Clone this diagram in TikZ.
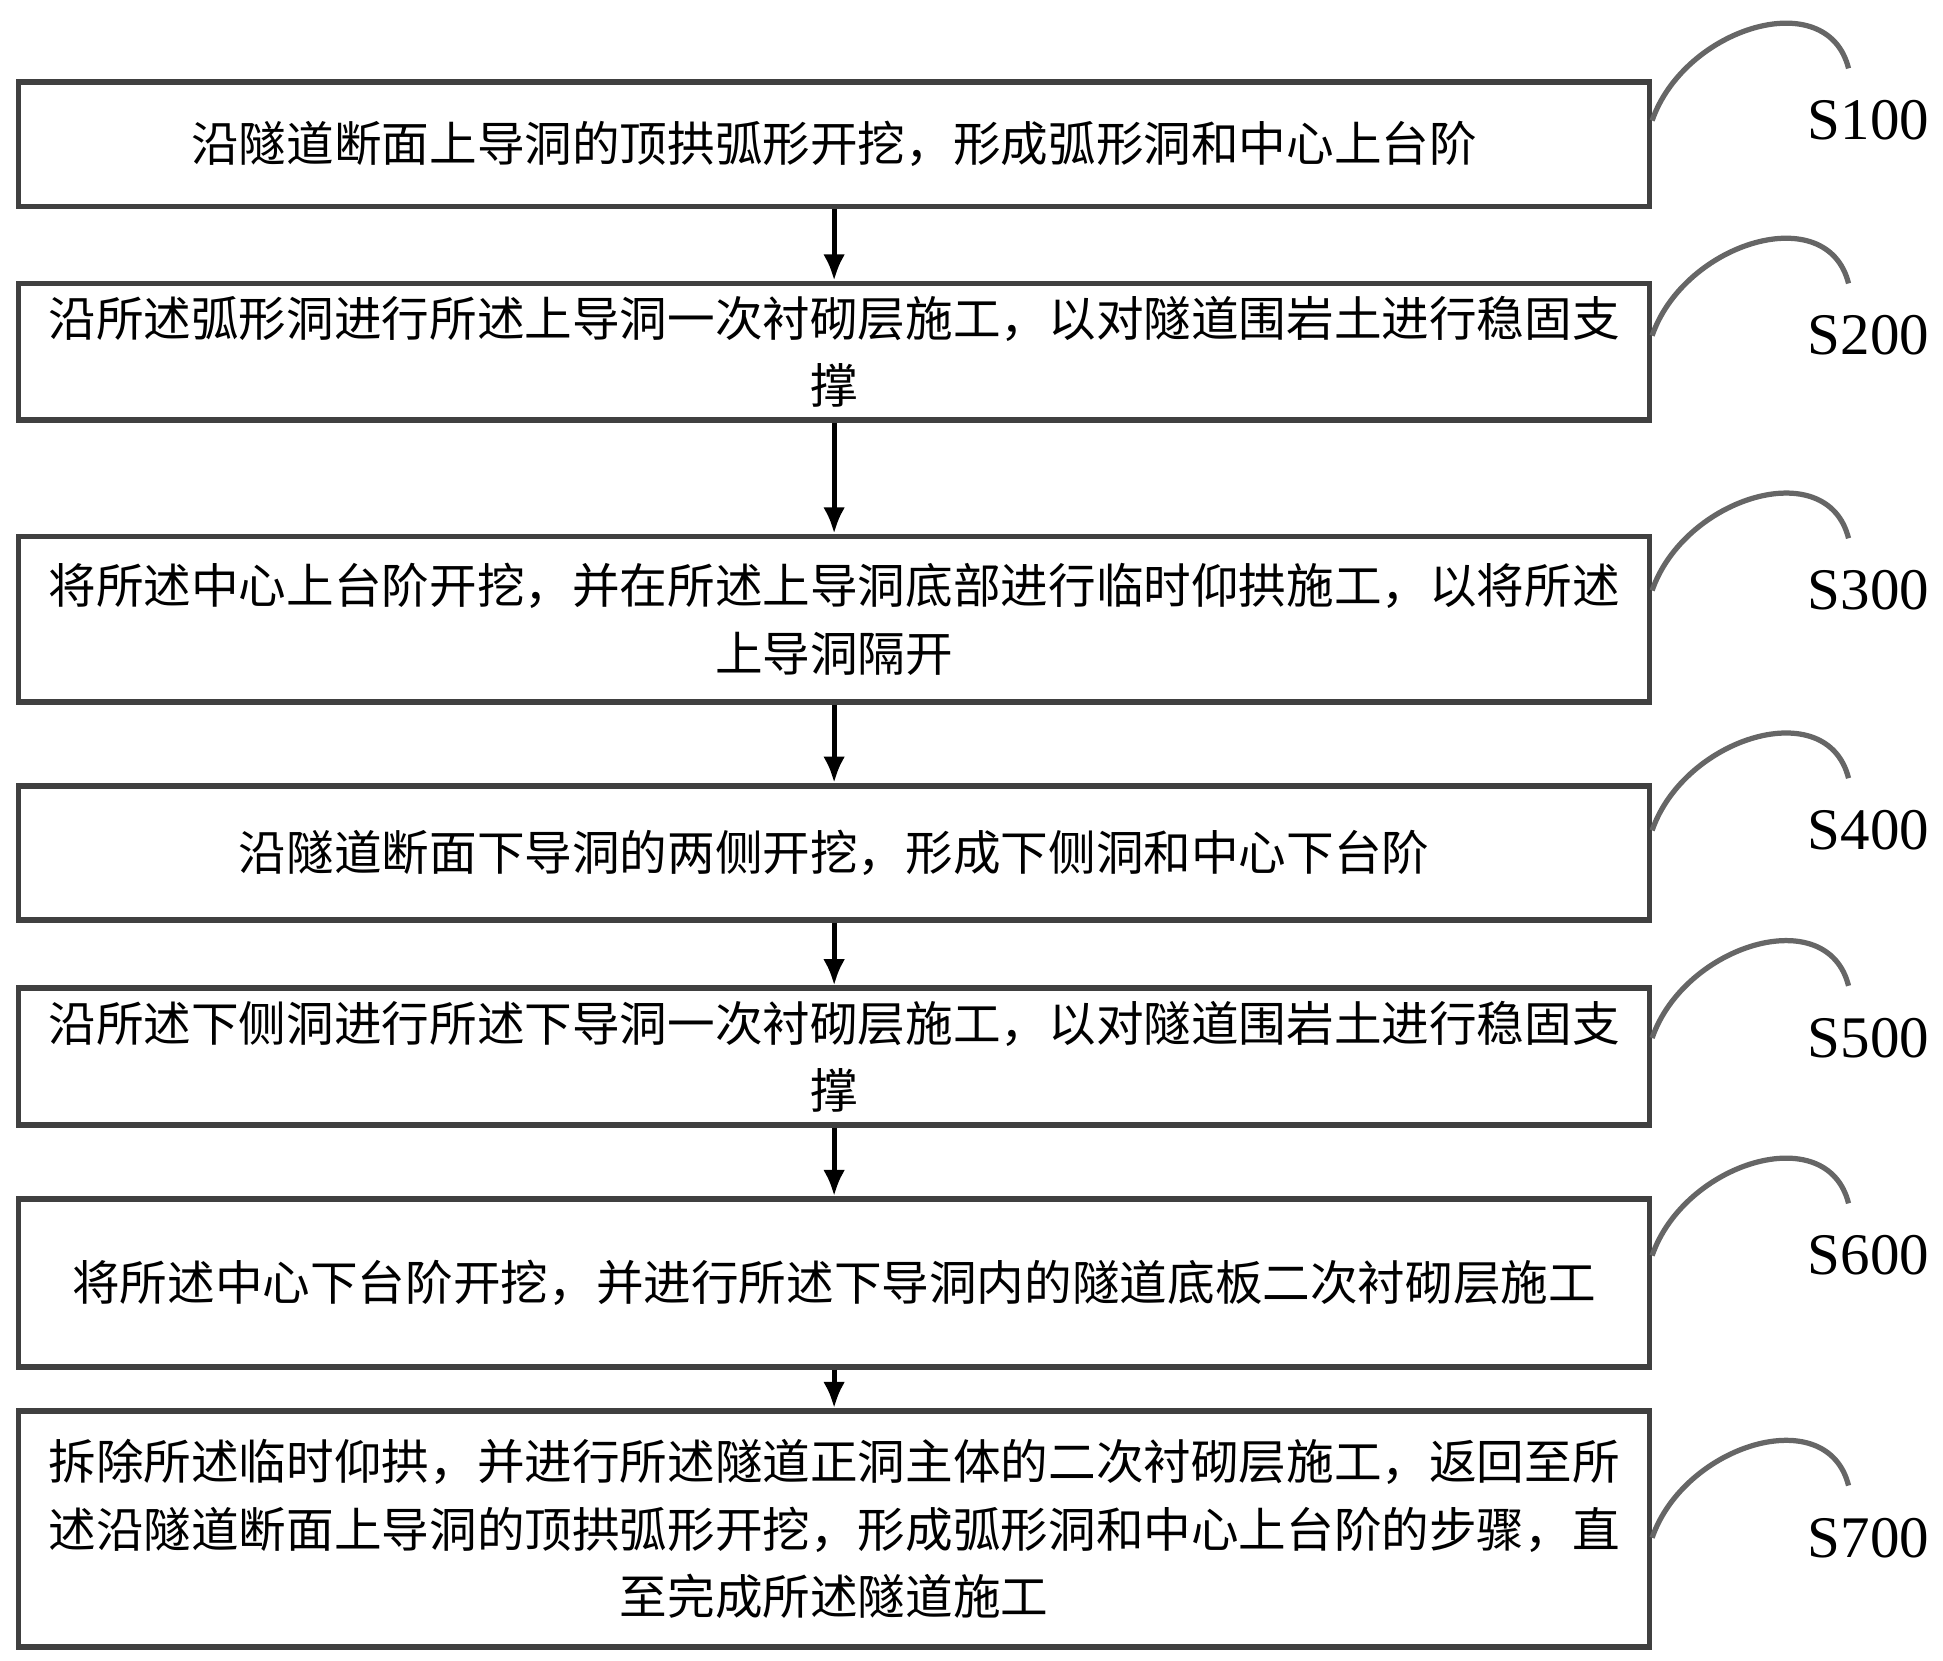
\documentclass[tikz,border=0pt]{standalone}
\usepackage{fontspec}
\setmainfont{Liberation Serif}
\newfontfamily\cjk{Noto Sans CJK SC}
\begin{document}
\begin{tikzpicture}[x=0.02cm,y=-0.02cm,
  box/.style={draw=black!75,line width=2.6pt,minimum width=1312*0.02cm,inner sep=0pt,font=\cjk\fontsize{21.8}{31}\selectfont,align=center},
  arr/.style={-{Latex[length=12pt,width=10pt]},line width=2.2pt},
  lab/.style={font=\fontsize{27}{30}\selectfont,anchor=center},
  cv/.style={draw=black!60,line width=2.4pt}]
\usetikzlibrary{arrows.meta}
\useasboundingbox (0,0) rectangle (1563,1336);
\node[box,minimum height=100*0.02cm] (b1) at (671,116) {沿隧道断面上导洞的顶拱弧形开挖，形成弧形洞和中心上台阶};
\node[box,minimum height=110*0.02cm] (b2) at (671,283) {沿所述弧形洞进行所述上导洞一次衬砌层施工，以对隧道围岩土进行稳固支\\撑};
\node[box,minimum height=133*0.02cm] (b3) at (671,498) {将所述中心上台阶开挖，并在所述上导洞底部进行临时仰拱施工，以将所述\\上导洞隔开};
\node[box,minimum height=108*0.02cm] (b4) at (671,686) {沿隧道断面下导洞的两侧开挖，形成下侧洞和中心下台阶};
\node[box,minimum height=110*0.02cm] (b5) at (671,850) {沿所述下侧洞进行所述下导洞一次衬砌层施工，以对隧道围岩土进行稳固支\\撑};
\node[box,minimum height=135*0.02cm] (b6) at (671,1032) {将所述中心下台阶开挖，并进行所述下导洞内的隧道底板二次衬砌层施工};
\node[box,minimum height=190*0.02cm] (b7) at (671,1230) {拆除所述临时仰拱，并进行所述隧道正洞主体的二次衬砌层施工，返回至所\\述沿隧道断面上导洞的顶拱弧形开挖，形成弧形洞和中心上台阶的步骤，直\\至完成所述隧道施工};
\foreach \a/\b in {b1/b2,b2/b3,b3/b4,b4/b5,b5/b6,b6/b7} \draw[arr] (\a.south) -- (\b.north);
\foreach \n/\t/\y in {l1/S100/97,l2/S200/270,l3/S300/475,l4/S400/668,l5/S500/835,l6/S600/1010,l7/S700/1237}{
  \node[lab] (\n) at (1503,\y) {\t};
  \coordinate (s\n) at (1329,\y);
  \coordinate (e\n) at (1487,\y-42);
  \draw[cv] (s\n) .. controls (1355,\y-75) and (1470,\y-110) .. (e\n);
}
\end{tikzpicture}
\end{document}
